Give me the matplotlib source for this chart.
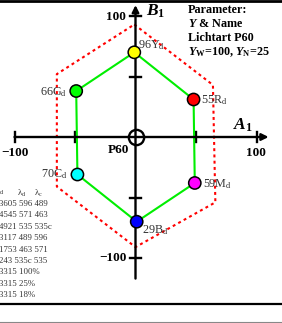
import matplotlib
matplotlib.use("Agg")
import matplotlib.pyplot as plt
from matplotlib.lines import Line2D

plt.rcParams['font.family'] = ['Liberation Serif', 'DejaVu Serif']
plt.rcParams['mathtext.fontset'] = 'custom'
plt.rcParams['mathtext.rm'] = 'Liberation Serif'
plt.rcParams['mathtext.it'] = 'Liberation Serif:italic:bold'
plt.rcParams['mathtext.bf'] = 'Liberation Serif:bold'

# colour points (A1, B1)
names = ['Y', 'R', 'M', 'B', 'C', 'G']
numbers = ['96', '55', '59', '29', '70', '66']
a_vals = [-1, 48, 49, 1, -48, -49]
b_vals = [70, 31, -38, -70, -31, 38]
colors = ['#ffff00', '#ff0000', '#ff00ff', '#0000ff', '#00ffff', '#00ff00']

# outer (dashed) hexagon
hex_a = [-1, 64, 66, 0, -65, -65]
hex_b = [93, 43, -54, -91, -41, 52]

# label offsets in points (layout)
offsets = [(2.9, 5.0, 'left'), (5.0, -0.7, 'left'), (5.8, -0.7, 'left'),
           (3.6, -5.8, 'left'), (-7.2, 0.0, 'right'), (-6.5, -0.7, 'right')]

table_rows = ['3605 596 489', '4545 571 463', '4921 535 535c', '3117 489 596',
              '1753 463 571', '243 535c 535', '3315 100%', '3315 25%', '3315 18%']

param_lines = ['Parameter:', r'$\mathit{Y}$ & Name', 'Lichtart P60',
               r'$\mathit{Y}_\mathbf{W}$=100, $\mathit{Y}_\mathbf{N}$=25']

# pixel geometry
X0, Y0, S = 135.5, 137.0, 1.21


def px(x, y):
    return (x - X0) / S, (Y0 - y) / S


fig = plt.figure(figsize=(2.82, 3.23), dpi=100)
ax = fig.add_axes([0, 0, 1, 1])
ax.set_xlim(-X0 / S, (282 - X0) / S)
ax.set_ylim((Y0 - 323) / S, Y0 / S)
ax.axis('off')

# axes with arrows
ax.annotate('', xy=(110, 0), xytext=(-100, 0),
            arrowprops=dict(arrowstyle='-|>', lw=1.7, color='k', mutation_scale=10,
                            shrinkA=0, shrinkB=0))
ax.annotate('', xy=(0, 109), xytext=(0, -117),
            arrowprops=dict(arrowstyle='-|>', lw=1.7, color='k', mutation_scale=10,
                            shrinkA=0, shrinkB=0))
for t in [-100, -50, 50, 100]:
    ax.plot([t, t], [-4.2, 4.2], color='k', lw=1.7)
    ax.plot([-4.2, 4.2], [t, t], color='k', lw=1.7)

ax.plot(0, 0, 'o', ms=11, mfc='none', mec='k', mew=1.7)

# dashed outer hexagon
ax.plot(hex_a + hex_a[:1], hex_b + hex_b[:1], color='#ff0000', lw=1.5,
        ls=(0, (1.4, 1.6)))

# green hexagon through colour points
ax.plot(a_vals + a_vals[:1], b_vals + b_vals[:1], color='#00ee00', lw=1.5)
ax.scatter(a_vals, b_vals, s=78, c=colors, edgecolors='k', linewidths=1.1, zorder=5)

for n, nm, a, b, (dx, dy, ha) in zip(numbers, names, a_vals, b_vals, offsets):
    ax.annotate(n + nm + r'$_\mathrm{d}$', (a, b), xytext=(dx, dy),
                textcoords='offset points', ha=ha, va='center',
                fontsize=8.7, color='#333333')

# tick labels
bold = dict(fontsize=9.5, fontweight='bold', color='k')
ax.text(*px(1, 153), '\u2212100', ha='left', va='center', **bold)
ax.text(*px(256, 153), '100', ha='center', va='center', **bold)
ax.text(*px(126, 17), '100', ha='right', va='center', **bold)
ax.text(*px(127, 258), '\u2212100', ha='right', va='center', **bold)
ax.text(*px(118, 150), 'P60', ha='center', va='center', **bold)

ax.text(*px(146, 11), r'$\mathit{B}_\mathbf{1}$', ha='left', va='center', fontsize=12.5)
ax.text(*px(233, 125), r'$\mathit{A}_\mathbf{1}$', ha='left', va='center', fontsize=12.5)

for i, line in enumerate(param_lines):
    ax.text(*px(188, 10 + 14 * i), line, ha='left', va='center',
            fontsize=8.7, fontweight='bold')

# data table (partly cut at the left edge)
ax.text(*px(0, 193), 'd', ha='left', va='center', fontsize=4.5, color='#333333')
ax.text(*px(17, 193), r'$\mathrm{\lambda}_\mathrm{d}$', ha='left', va='center',
        fontsize=6.3, color='#333333')
ax.text(*px(34, 193), r'$\mathrm{\lambda}_\mathrm{c}$', ha='left', va='center',
        fontsize=6.3, color='#333333')
for i, row in enumerate(table_rows):
    ax.text(*px(-1, 204 + 11.4 * i), row, ha='left', va='center',
            fontsize=6.3, color='#333333')

# frame lines
fig.add_artist(Line2D([0, 1], [1 - 1 / 323, 1 - 1 / 323], color='k', lw=2,
                      transform=fig.transFigure))
fig.add_artist(Line2D([0, 1], [1 - 304 / 323, 1 - 304 / 323], color='k', lw=1.6,
                      transform=fig.transFigure))
fig.add_artist(Line2D([0, 1], [1 - 322 / 323, 1 - 322 / 323], color='#888888', lw=0.8,
                      transform=fig.transFigure))

fig.savefig('out.png', dpi=100)
